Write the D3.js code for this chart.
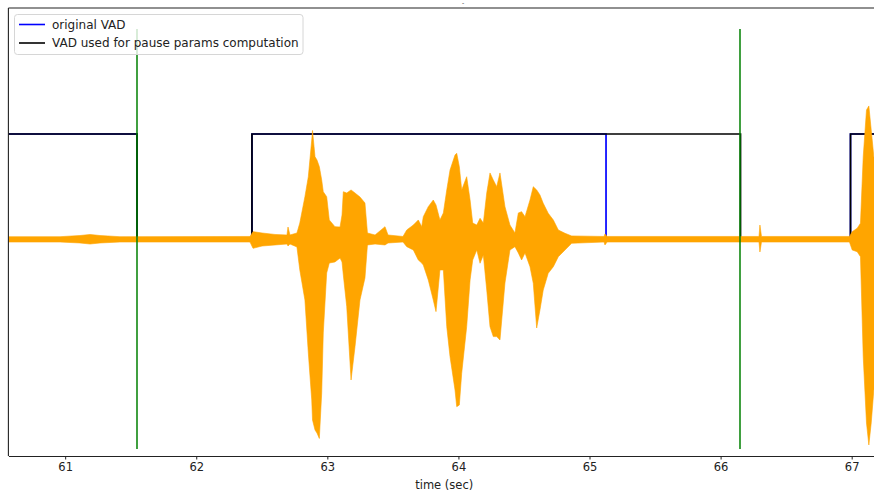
<!DOCTYPE html>
<html>
<head>
<meta charset="utf-8">
<script src="https://cdn.jsdelivr.net/npm/d3@7"></script>
<style>
  html, body { margin: 0; padding: 0; background: #fff; }
  svg { display: block; font-family: "DejaVu Sans", sans-serif; }
</style>
</head>
<body>
<svg id="chart" width="874" height="492"></svg>
<script>
// ---- data ----
const tickValues = [61, 62, 63, 64, 65, 66, 67];
const xLabel = "time (sec)";
const titleText = "-";

// waveform envelope (time in sec, upper and lower amplitude)
const sigTime = [60.567, 60.961, 61.113, 61.190, 61.266, 61.418, 62.410, 62.433, 62.502, 62.601,
  62.692, 62.700, 62.715, 62.768, 62.790, 62.829, 62.855, 62.881, 62.887, 62.906,
  62.921, 62.939, 62.957, 62.969, 62.995, 63.015, 63.058, 63.097, 63.112, 63.122,
  63.148, 63.181, 63.211, 63.249, 63.287, 63.306, 63.364, 63.440, 63.463, 63.577,
  63.606, 63.656, 63.694, 63.720, 63.732, 63.770, 63.808, 63.829, 63.859, 63.885,
  63.911, 63.936, 63.974, 63.987, 64.007, 64.025, 64.063, 64.089, 64.109, 64.140,
  64.165, 64.190, 64.216, 64.241, 64.266, 64.292, 64.317, 64.355, 64.393, 64.431,
  64.457, 64.482, 64.508, 64.546, 64.571, 64.597, 64.622, 64.647, 64.685, 64.724,
  64.762, 64.813, 64.864, 65.111, 65.118, 65.134, 66.278, 66.293, 66.300, 66.312,
  66.983, 67.004, 67.042, 67.067, 67.088, 67.113, 67.131, 67.149, 67.169, 67.205];
const sigUpper = [0.022, 0.022, 0.033, 0.043, 0.033, 0.022, 0.024, 0.070, 0.057, 0.043,
  0.038, 0.114, 0.038, 0.057, 0.152, 0.403, 0.593, 0.943, 1.033, 0.784,
  0.752, 0.689, 0.562, 0.450, 0.403, 0.181, 0.117, 0.114, 0.229, 0.450,
  0.438, 0.467, 0.438, 0.400, 0.343, 0.057, 0.038, 0.117, 0.038, 0.024,
  0.086, 0.133, 0.181, 0.117, 0.212, 0.308, 0.371, 0.324, 0.181, 0.248,
  0.467, 0.657, 0.800, 0.816, 0.689, 0.467, 0.593, 0.371, 0.152, 0.133,
  0.197, 0.152, 0.438, 0.629, 0.562, 0.498, 0.629, 0.308, 0.133, 0.057,
  0.248, 0.260, 0.212, 0.371, 0.498, 0.467, 0.419, 0.340, 0.245, 0.181,
  0.086, 0.054, 0.029, 0.024, 0.048, 0.024, 0.024, 0.024, 0.133, 0.024,
  0.024, 0.070, 0.102, 0.150, 0.784, 1.229, 1.267, 1.038, 0.784, 0.657];
const sigLower = [-0.029, -0.029, -0.038, -0.048, -0.038, -0.029, -0.029, -0.089, -0.067, -0.057,
  -0.048, -0.067, -0.048, -0.076, -0.295, -0.581, -1.086, -1.533, -1.724, -1.819,
  -1.848, -1.900, -1.467, -0.895, -0.324, -0.229, -0.219, -0.181, -0.219, -0.343,
  -0.645, -1.343, -1.026, -0.581, -0.371, -0.057, -0.048, -0.057, -0.038, -0.029,
  -0.073, -0.105, -0.200, -0.229, -0.248, -0.390, -0.581, -0.692, -0.295, -0.295,
  -0.835, -1.121, -1.438, -1.597, -1.581, -1.279, -0.835, -0.390, -0.200, -0.105,
  -0.231, -0.152, -0.486, -0.835, -0.930, -0.930, -0.962, -0.419, -0.105, -0.073,
  -0.133, -0.200, -0.133, -0.264, -0.422, -0.848, -0.676, -0.486, -0.327, -0.264,
  -0.169, -0.105, -0.041, -0.029, -0.057, -0.029, -0.029, -0.029, -0.124, -0.029,
  -0.029, -0.105, -0.121, -0.169, -1.121, -1.752, -1.962, -1.752, -1.438, -1.343];

// VAD step series (value holds from each time until the next)
const origVadTime = [60.4, 61.548, 62.425, 65.126, 66.991, 67.4];
const origVadVal  = [1, 0, 1, 0, 1, 1];
const pauseVadTime = [60.4, 61.548, 62.425, 66.152, 66.991, 67.4];
const pauseVadVal  = [1, 0, 1, 0, 1, 1];

// pause markers (green vertical lines)
const pauseMarks = [61.548, 66.148];
const pauseMarkRange = [-2, 2];

const legendLabels = ["original VAD", "VAD used for pause params computation"];
const legendColors = ["blue", "black"];

// ---- layout ----
const svg = d3.select("#chart");
const L = 8.4, T = 8, B = 456, R = 880;
const x = d3.scaleLinear().domain([60.567, 67.216]).range([L, R]);
const y = d3.scaleLinear().domain([-2.067, 2.2]).range([B, T]);

svg.append("defs").append("clipPath").attr("id", "clip")
  .append("rect").attr("x", L).attr("y", T).attr("width", R - L).attr("height", B - T);

const plot = svg.append("g").attr("clip-path", "url(#clip)");

const stepLine = d3.line().curve(d3.curveStepAfter).x(d => x(d[0])).y(d => y(d[1]));

plot.append("path")
  .datum(origVadTime.map((t, i) => [t, origVadVal[i]]))
  .attr("d", stepLine).attr("fill", "none").attr("stroke", "blue").attr("stroke-width", 1.7);
plot.append("path")
  .datum(pauseVadTime.map((t, i) => [t, pauseVadVal[i]]))
  .attr("d", stepLine).attr("fill", "none").attr("stroke", "black").attr("stroke-width", 1.7);

const area = d3.area()
  .x((d, i) => x(sigTime[i]))
  .y0((d, i) => y(sigLower[i]))
  .y1((d, i) => y(sigUpper[i]));
plot.append("path").datum(sigTime).attr("d", area)
  .attr("fill", "orange").attr("stroke", "orange").attr("stroke-width", 0.6).attr("stroke-linejoin", "round");

plot.selectAll("line.pm").data(pauseMarks).enter().append("line")
  .attr("class", "pm")
  .attr("x1", d => x(d)).attr("x2", d => x(d))
  .attr("y1", y(pauseMarkRange[0])).attr("y2", y(pauseMarkRange[1]))
  .attr("stroke", "green").attr("stroke-width", 1.5);

// spines
svg.append("line").attr("x1", L).attr("x2", L).attr("y1", T).attr("y2", B)
  .attr("stroke", "#222").attr("stroke-width", 1.1);
svg.append("line").attr("x1", L).attr("x2", R).attr("y1", T).attr("y2", T)
  .attr("stroke", "#222").attr("stroke-width", 1.1);

// x axis
const xAxis = d3.axisBottom(x).tickValues(tickValues).tickFormat(d3.format("d"))
  .tickSize(3.5).tickPadding(3.5).tickSizeOuter(0);
const gx = svg.append("g").attr("transform", `translate(0,${B})`).call(xAxis);
gx.select(".domain").attr("stroke", "#222").attr("stroke-width", 1.1);
gx.selectAll(".tick line").attr("stroke", "#222").attr("stroke-width", 1);
gx.selectAll(".tick text").attr("fill", "#222").style("font-family", "DejaVu Sans")
  .style("font-size", "11.5px");

svg.append("text").attr("x", (L + 874) / 2 + 3).attr("y", 489)
  .attr("text-anchor", "middle").attr("fill", "#222")
  .style("font-size", "11.5px").text(xLabel);

// title
svg.append("text").attr("x", 463).attr("y", 5).attr("text-anchor", "middle")
  .attr("fill", "#222").style("font-size", "6px").text(titleText);

// legend
const lg = svg.append("g");
lg.append("rect").attr("x", 14.5).attr("y", 14.5).attr("width", 288.5).attr("height", 40)
  .attr("rx", 3).attr("fill", "white").attr("fill-opacity", 0.8)
  .attr("stroke", "#d6d6d6").attr("stroke-width", 1);
legendLabels.forEach((lab, i) => {
  const yy = 24.5 + i * 18.5;
  lg.append("line").attr("x1", 19).attr("x2", 45).attr("y1", yy).attr("y2", yy)
    .attr("stroke", legendColors[i]).attr("stroke-width", 1.6);
  lg.append("text").attr("x", 52).attr("y", yy + 4.3).attr("fill", "#222")
    .style("font-size", "12px").text(lab);
});
</script>
</body>
</html>
